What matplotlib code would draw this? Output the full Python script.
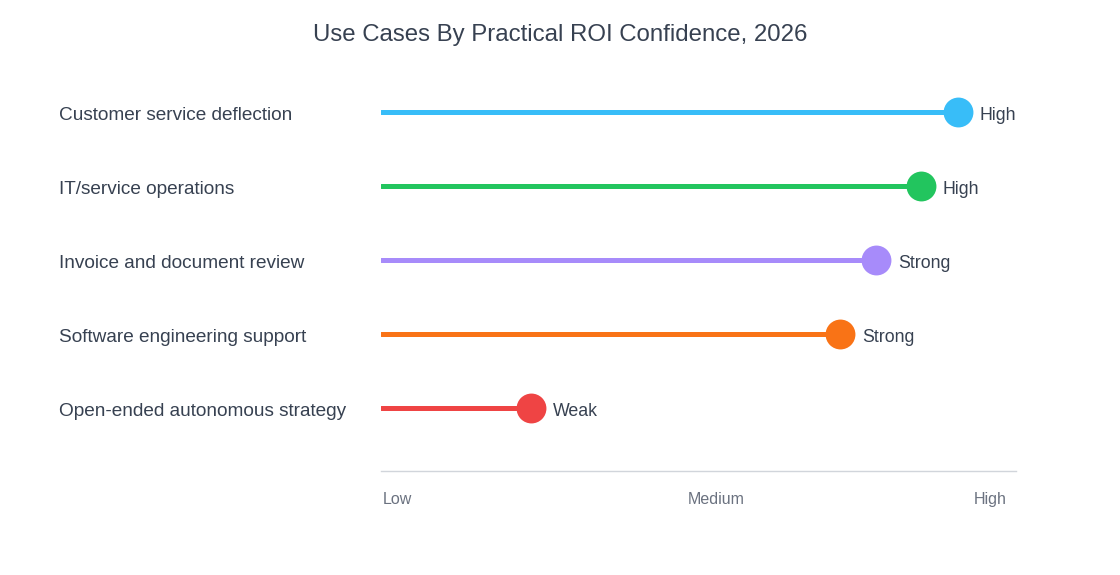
import matplotlib.pyplot as plt
import matplotlib.transforms as mtransforms

plt.rcParams['font.family'] = ['Liberation Sans', 'DejaVu Sans']

# Daten (von unten nach oben)
use_cases = [
    "Open-ended autonomous strategy",
    "Software engineering support",
    "Invoice and document review",
    "IT/service operations",
    "Customer service deflection",
]
scores = [23.6, 72.3, 78.0, 85.0, 90.9]
ratings = ["Weak", "Strong", "Strong", "High", "High"]
colors = ["#ef4444", "#f97316", "#a78bfa", "#22c55e", "#38bdf8"]
tick_pos = [0.3, 52.8, 98.6]
tick_labels = ["Low", "Medium", "High"]

fig = plt.figure(figsize=(11.2, 5.75), dpi=100)
ax = fig.add_axes([0.340, 0.181, 0.567, 0.697])

for i, (name, val, rate, col) in enumerate(zip(use_cases, scores, ratings, colors)):
    ax.plot([0, val], [i, i], color=col, lw=3.6, solid_capstyle='round', zorder=2)
    ax.plot(val, i, 'o', ms=21.5, color=col, mec='none', zorder=3)
    ax.annotate(rate, (val, i), xytext=(15.8, -1), textcoords='offset points',
                ha='left', va='center_baseline', fontsize=12.8, color='#374151')
    trans = mtransforms.blended_transform_factory(fig.transFigure, ax.transData)
    ax.annotate(name, (59 / 1120, i), xycoords=trans, xytext=(0, -1.2),
                textcoords='offset points', ha='left', va='center_baseline',
                fontsize=13.7, color='#374151')

ax.set_xlim(0, 100)
ax.set_ylim(-0.851, 4.568)
ax.set_yticks([])
ax.set_xticks(tick_pos)
ax.set_xticklabels(tick_labels, fontsize=11.5, color='#6b7280')
labs = ax.get_xticklabels()
labs[0].set_ha('left')
labs[2].set_ha('right')
ax.tick_params(axis='x', length=0, pad=15.5)

for s in ['top', 'right', 'left']:
    ax.spines[s].set_visible(False)
ax.spines['bottom'].set_color('#d1d5db')
ax.spines['bottom'].set_linewidth(1)

fig.text(0.5, 1 - 33 / 575, "Use Cases By Practical ROI Confidence, 2026",
         ha='center', va='center_baseline', fontsize=17.3, color='#374151')

fig.savefig("out.png", dpi=100)
